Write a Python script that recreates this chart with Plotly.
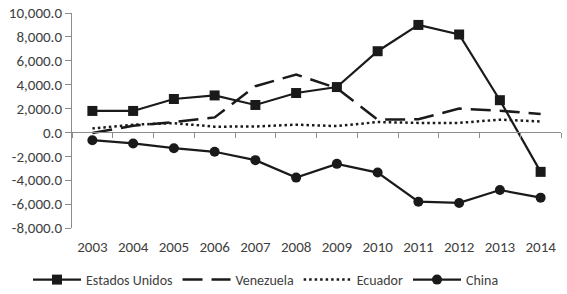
import plotly.graph_objects as go

years = ["2003", "2004", "2005", "2006", "2007", "2008", "2009", "2010", "2011", "2012", "2013", "2014"]
estados_unidos = [1800, 1800, 2800, 3100, 2300, 3300, 3800, 6800, 9000, 8200, 2700, -3300]
venezuela = [-50, 560, 870, 1260, 3870, 4850, 3700, 1070, 1100, 2000, 1820, 1540]
ecuador = [340, 650, 780, 480, 500, 650, 530, 870, 800, 800, 1070, 920]
china = [-650, -920, -1320, -1620, -2320, -3780, -2630, -3360, -5800, -5900, -4820, -5460]
y_ticks = [10000, 8000, 6000, 4000, 2000, 0, -2000, -4000, -6000, -8000]

fig = go.Figure()
fig.add_trace(go.Scatter(x=years, y=estados_unidos, name="Estados Unidos", mode="lines+markers",
                         line=dict(color="#1a1a1a", width=2.2),
                         marker=dict(symbol="square", size=10, color="#1a1a1a")))
fig.add_trace(go.Scatter(x=years, y=venezuela, name="Venezuela", mode="lines",
                         line=dict(color="#1a1a1a", width=2.5, dash="20px,9px")))
fig.add_trace(go.Scatter(x=years, y=ecuador, name="Ecuador", mode="lines",
                         line=dict(color="#1a1a1a", width=2.5, dash="2.5px,3px")))
fig.add_trace(go.Scatter(x=years, y=china, name="China", mode="lines+markers",
                         line=dict(color="#1a1a1a", width=2.2),
                         marker=dict(symbol="circle", size=10, color="#1a1a1a")))
# invisible trace to activate the zero-line x axis
fig.add_trace(go.Scatter(x=years, y=[None]*len(years), xaxis="x2", showlegend=False, hoverinfo="skip"))

axis_color = "#8c8c8c"
fig.update_layout(
    width=567, height=294,
    margin=dict(l=72, r=6, t=13, b=66, autoexpand=False),
    paper_bgcolor="white", plot_bgcolor="white",
    font=dict(family="Carlito, Lato, sans-serif", size=15, color="#404040"),
    xaxis=dict(type="category", range=[-0.5, 11.5], showline=False, ticks="outside",
               ticklen=5, tickcolor="rgba(0,0,0,0)",
               showgrid=False, zeroline=False),
    xaxis2=dict(type="category", range=[-0.5, 11.5], overlaying="x", anchor="free",
                position=8000/18000, side="bottom", showline=True, linecolor=axis_color,
                linewidth=1, ticks="outside", tickson="boundaries", ticklen=5,
                tickcolor=axis_color, showticklabels=False, showgrid=False),
    yaxis=dict(range=[-8000, 10000], tickvals=y_ticks,
               ticktext=[f"{v:,.1f}" for v in y_ticks],
               showline=True, linecolor=axis_color, ticks="outside", ticklen=6,
               tickcolor=axis_color, showgrid=False, zeroline=False),
    legend=dict(orientation="h", xref="container", yref="container",
                x=28/567, xanchor="left", y=14/294, yanchor="middle",
                font=dict(size=14), itemwidth=48),
    showlegend=True,
)
fig.write_html("out.html", config={"displayModeBar": False},
               post_script="document.body.style.margin='0';document.body.style.padding='0';")
